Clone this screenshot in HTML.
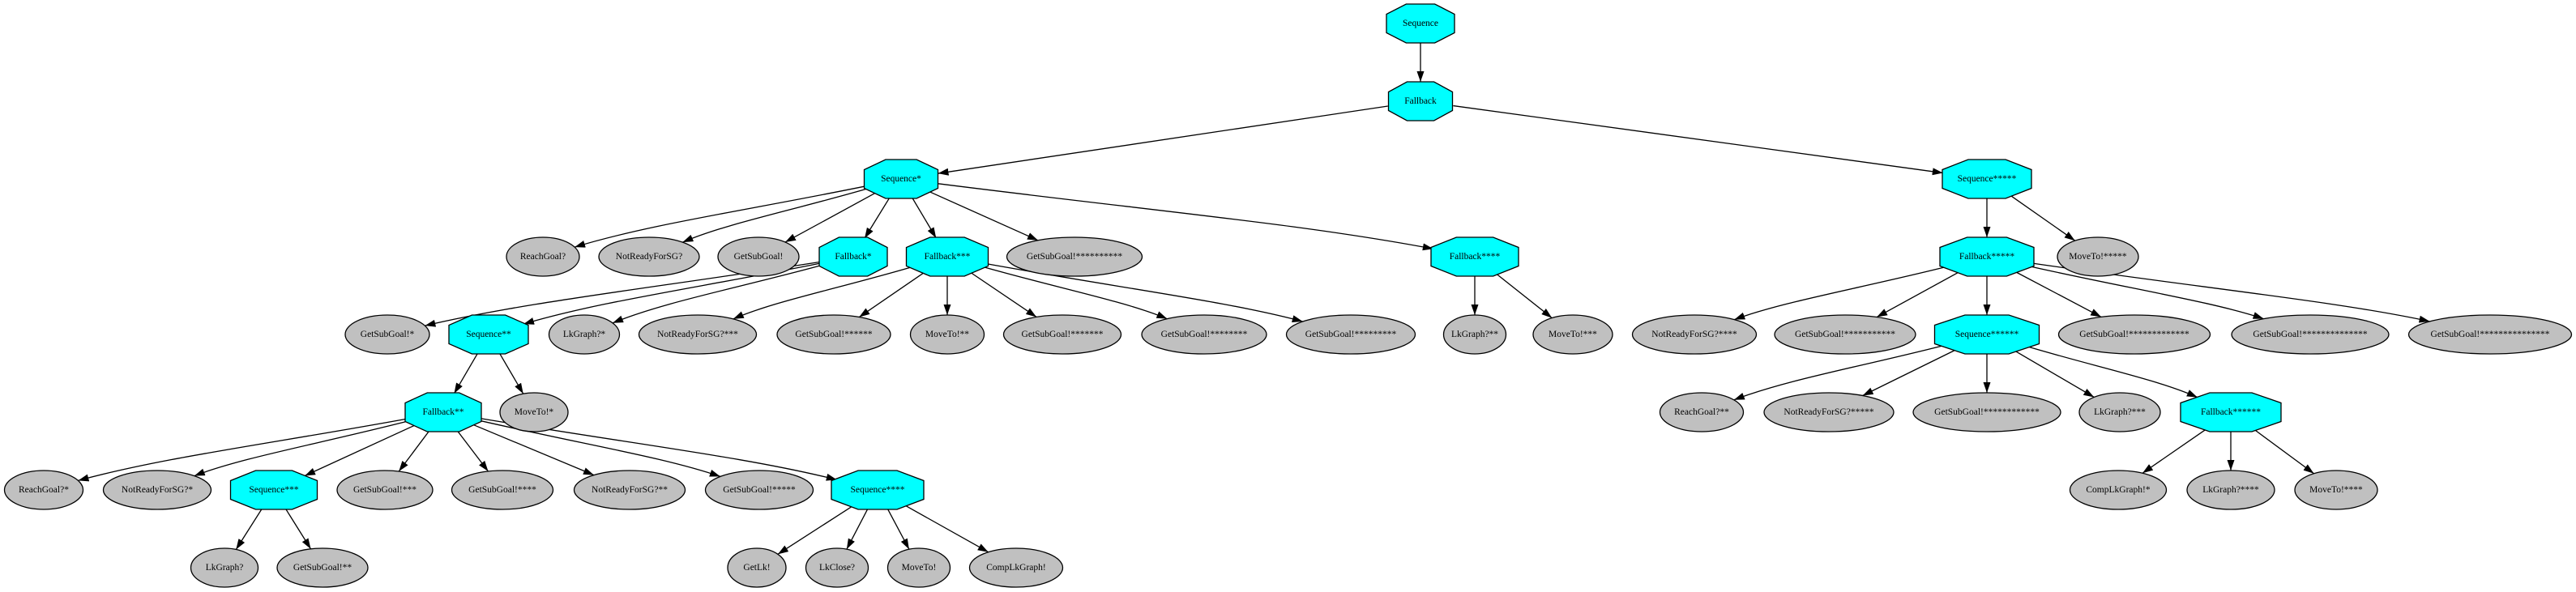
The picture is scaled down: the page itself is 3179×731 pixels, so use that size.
<!DOCTYPE html>
<html><head><meta charset="utf-8"><style>
html,body{margin:0;padding:0;background:#fff;}
svg{display:block;}
text{font-family:"Liberation Serif",serif;font-size:11.5px;fill:#000;text-anchor:middle;dominant-baseline:central;}
</style></head><body>
<svg id="g" width="3179" height="731" viewBox="0 0 3179 731" xmlns="http://www.w3.org/2000/svg">
<defs><marker id="ah" markerUnits="userSpaceOnUse" markerWidth="14" markerHeight="10" refX="13" refY="4.5" orient="auto"><path d="M0,0 L13,4.5 L0,9 z" fill="#000"/></marker></defs>
<g id="edges"></g>
<g id="shapes"></g>
<g id="labels">
<text x="1753" y="29">Sequence</text>
<text x="1753" y="125">Fallback</text>
<text x="1112" y="221">Sequence*</text>
<text x="2452" y="221">Sequence*****</text>
<text x="670" y="317">ReachGoal?</text>
<text x="801" y="317">NotReadyForSG?</text>
<text x="936" y="317">GetSubGoal!</text>
<text x="1053" y="317">Fallback*</text>
<text x="1169" y="317">Fallback***</text>
<text x="1326" y="317">GetSubGoal!**********</text>
<text x="1820" y="317">Fallback****</text>
<text x="2452" y="317">Fallback*****</text>
<text x="2589" y="317">MoveTo!*****</text>
<text x="478" y="413">GetSubGoal!*</text>
<text x="603" y="413">Sequence**</text>
<text x="721" y="413">LkGraph?*</text>
<text x="861" y="413">NotReadyForSG?***</text>
<text x="1029" y="413">GetSubGoal!******</text>
<text x="1169" y="413">MoveTo!**</text>
<text x="1311" y="413">GetSubGoal!*******</text>
<text x="1486" y="413">GetSubGoal!********</text>
<text x="1667" y="413">GetSubGoal!*********</text>
<text x="1820" y="413">LkGraph?**</text>
<text x="1941" y="413">MoveTo!***</text>
<text x="2091" y="413">NotReadyForSG?****</text>
<text x="2277" y="413">GetSubGoal!***********</text>
<text x="2452" y="413">Sequence******</text>
<text x="2634" y="413">GetSubGoal!*************</text>
<text x="2851" y="413">GetSubGoal!**************</text>
<text x="3073" y="413">GetSubGoal!***************</text>
<text x="547" y="509">Fallback**</text>
<text x="659" y="509">MoveTo!*</text>
<text x="2100" y="509">ReachGoal?**</text>
<text x="2257" y="509">NotReadyForSG?*****</text>
<text x="2452" y="509">GetSubGoal!************</text>
<text x="2616" y="509">LkGraph?***</text>
<text x="2753" y="509">Fallback******</text>
<text x="54" y="605">ReachGoal?*</text>
<text x="194" y="605">NotReadyForSG?*</text>
<text x="338" y="605">Sequence***</text>
<text x="475" y="605">GetSubGoal!***</text>
<text x="620" y="605">GetSubGoal!****</text>
<text x="777" y="605">NotReadyForSG?**</text>
<text x="937" y="605">GetSubGoal!*****</text>
<text x="1083" y="605">Sequence****</text>
<text x="2614" y="605">CompLkGraph!*</text>
<text x="2753" y="605">LkGraph?****</text>
<text x="2883" y="605">MoveTo!****</text>
<text x="277" y="701">LkGraph?</text>
<text x="398" y="701">GetSubGoal!**</text>
<text x="934" y="701">GetLk!</text>
<text x="1033" y="701">LkClose?</text>
<text x="1134" y="701">MoveTo!</text>
<text x="1254" y="701">CompLkGraph!</text>
</g>
</svg>
<script>
var N={
S0:[1753,29,84,1],F0:[1753,125,79,1],
S1:[1112,221,91,1],S5:[2452,221,110,1],
a1:[670,317,90],a2:[801,317,124],a3:[936,317,100],F1:[1053,317,84,1],F3:[1169,317,101,1],a4:[1326,317,167],F4:[1820,317,108,1],F5:[2452,317,116,1],a5:[2589,317,100],
b1:[478,413,104],S2:[603,413,98,1],b2:[721,413,87],b3:[861,413,145],b4:[1029,413,140],b5:[1169,413,91],b6:[1311,413,145],b7:[1486,413,154],b8:[1667,413,159],b9:[1820,413,77],b10:[1941,413,98],b11:[2091,413,153],b12:[2277,413,174],S6:[2452,413,129,1],b13:[2634,413,187],b14:[2851,413,194],b15:[3073,413,201],
F2:[547,509,94,1],c1:[659,509,84],c2:[2100,509,103],c3:[2257,509,160],c4:[2452,509,182],c5:[2616,509,100],F6:[2753,509,124,1],
d1:[54,605,97],d2:[194,605,133],S3:[338,605,107,1],d3:[475,605,118],d4:[620,605,125],d5:[777,605,137],d6:[937,605,133],S4:[1083,605,114,1],d7:[2614,605,119],d8:[2753,605,108],d9:[2883,605,102],
e1:[277,701,83],e2:[398,701,112],e3:[934,701,72],e4:[1033,701,77],e5:[1134,701,77],e6:[1254,701,115]};
var E={S0:['F0'],F0:['S1','S5'],S1:['a1','a2','a3','F1','F3','a4','F4'],F1:['b1','S2','b2'],F3:['b3','b4','b5','b6','b7','b8'],F4:['b9','b10'],S2:['F2','c1'],F2:['d1','d2','S3','d3','d4','d5','d6','S4'],S3:['e1','e2'],S4:['e3','e4','e5','e6'],S5:['F5','a5'],F5:['b11','b12','S6','b13','b14','b15'],S6:['c2','c3','c4','c5','F6'],F6:['d7','d8','d9']};
var ns='http://www.w3.org/2000/svg',sh=document.getElementById('shapes'),ed=document.getElementById('edges');
function el(t,a,p){var e=document.createElementNS(ns,t);for(var k in a)e.setAttribute(k,a[k]);p.appendChild(e);return e;}
for(var k in N){var n=N[k],x=n[0],y=n[1],w=n[2]/2,h=24;
 if(n[3]){var a=n[2]*0.21,b=11.5;
  el('polygon',{points:[x-a,y-h,x+a,y-h,x+w,y-b,x+w,y+b,x+a,y+h,x-a,y+h,x-w,y+b,x-w,y-b].join(','),fill:'#00ffff',stroke:'#000','stroke-width':1.3},sh);}
 else el('ellipse',{cx:x,cy:y,rx:w,ry:h,fill:'#c0c0c0',stroke:'#000','stroke-width':1.3},sh);}
function clip(n,dx,dy){var rx=n[2]/2+(n[3]?2:0),ry=24;var t=1/Math.sqrt(dx*dx/(rx*rx)+dy*dy/(ry*ry));return [n[0]+dx*t,n[1]+dy*t];}
for(var p in E){E[p].forEach(function(c){var P=N[p],C=N[c];var dx=C[0]-P[0],dy=C[1]-P[1];var d;
 if(p!='F0'&&Math.abs(dx)>3*dy){var c1=[P[0]+dx*0.45,P[1]+dy*0.42],c2=[C[0]-dx*0.3,C[1]-dy*0.42];
  var s=clip(P,c1[0]-P[0],c1[1]-P[1]),e=clip(C,c2[0]-C[0],c2[1]-C[1]);
  d='M'+s+' C'+c1+' '+c2+' '+e;}
 else{var s=clip(P,dx,dy),e=clip(C,-dx,-dy);d='M'+s+' L'+e;}
 el('path',{d:d,fill:'none',stroke:'#000','stroke-width':1.3,'marker-end':'url(#ah)'},ed);});}
</script>
</body></html>
